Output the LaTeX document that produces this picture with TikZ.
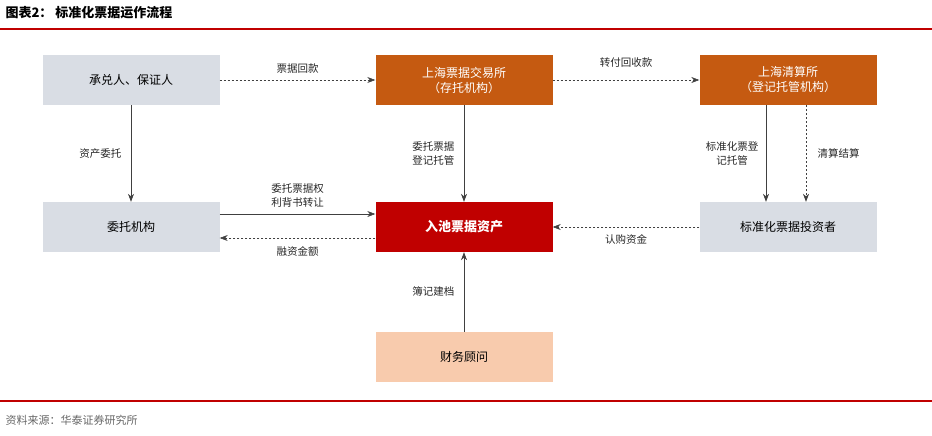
\documentclass[tikz,border=0pt]{standalone}
\usepackage{fontspec}
\setmainfont{Noto Sans CJK SC}
\usetikzlibrary{arrows.meta}
\definecolor{gbox}{HTML}{D9DDE4}
\definecolor{obox}{HTML}{C55A11}
\definecolor{rbox}{HTML}{C00000}
\definecolor{pbox}{HTML}{F8CBAD}
\definecolor{rline}{HTML}{C00000}
\begin{document}
\begin{tikzpicture}[x=1pt,y=-1pt,
  box/.style={minimum width=177pt,minimum height=50pt,inner sep=0,align=center,font=\fontsize{12}{15}\selectfont},
  gb/.style={box,fill=gbox},
  ob/.style={box,fill=obox,text=white},
  rb/.style={box,fill=rbox,text=white,font=\fontsize{13}{15}\selectfont\bfseries},
  pb/.style={box,fill=pbox},
  arr/.style={-{Stealth[length=8pt,width=6pt]},draw=black!75,line width=0.6pt},
  darr/.style={arr,dashed,dash pattern=on 2pt off 2pt},
  lab/.style={font=\fontsize{10.5}{14}\selectfont,align=center,text=black!85}]
\useasboundingbox (0,0) rectangle (932,436);
\node[anchor=west,font=\fontsize{13}{15}\selectfont\bfseries] (title) at (2,13) {图表2： 标准化票据运作流程};
\draw[rline,line width=1.2pt] (0,29) -- (932,29);
\draw[rline,line width=1.2pt] (0,401) -- (932,401);
\node[anchor=west,font=\fontsize{11}{13}\selectfont,text=black!60] (src) at (2,420) {资料来源：华泰证券研究所};
\node[gb] (a) at (131,80) {承兑人、保证人};
\node[ob] (b) at (464,80) {上海票据交易所\\（存托机构）};
\node[ob] (c) at (788,80) {上海清算所\\（登记托管机构）};
\node[gb] (d) at (131,227) {委托机构};
\node[rb] (e) at (464,227) {入池票据资产};
\node[gb] (f) at (788,227) {标准化票据投资者};
\node[pb] (g) at (464,357) {财务顾问};
\draw[darr] (a) -- node[lab,above=3pt]{票据回款} (b);
\draw[darr] (b) -- node[lab,above=9pt]{转付回收款} (c);
\draw[arr] (a) -- node[lab,left=6pt]{资产委托} (d);
\draw[arr] (b) -- node[lab,left=6pt]{委托票据\\登记托管} (e);
\draw[arr] ([xshift=-22pt]c.south) -- node[lab,left=4pt]{标准化票登\\记托管} ([xshift=-22pt]f.north);
\draw[darr] ([xshift=18pt]c.south) -- node[lab,right=8pt]{清算结算} ([xshift=18pt]f.north);
\draw[arr] ([yshift=13pt]d.east) -- node[lab,above=3pt]{委托票据权\\利背书转让} ([yshift=13pt]e.west);
\draw[darr] ([yshift=-11pt]e.west) -- node[lab,below=5pt]{融资金额} ([yshift=-11pt]d.east);
\draw[darr] (f) -- node[lab,below=4pt]{认购资金} (e);
\draw[arr] (g) -- node[lab,left=6pt]{簿记建档} (e);
\end{tikzpicture}
\end{document}
